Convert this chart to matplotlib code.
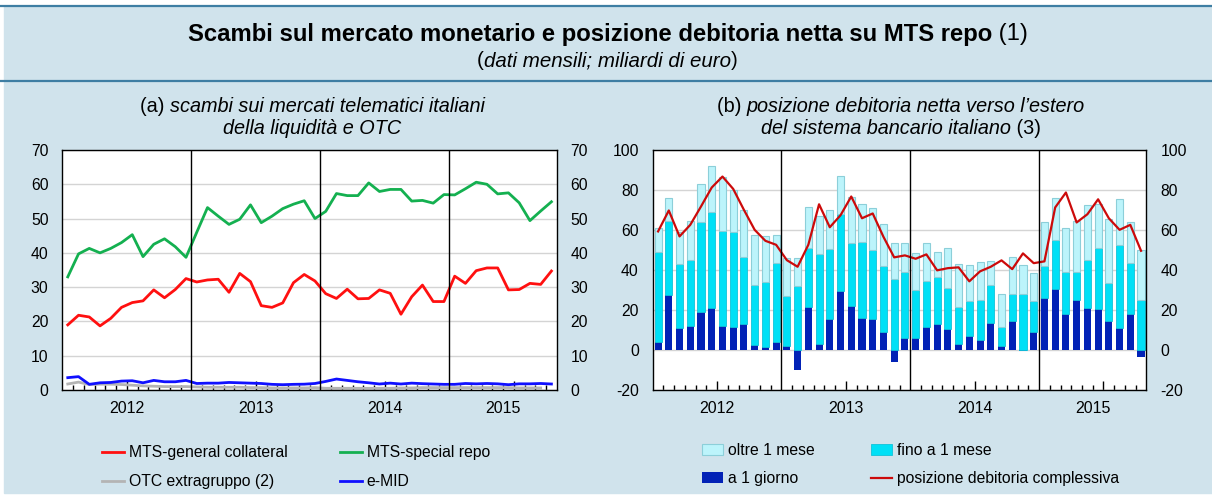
import numpy as np
import matplotlib
matplotlib.use("Agg")
import matplotlib.pyplot as plt
from matplotlib.patches import Rectangle
from matplotlib.lines import Line2D

plt.rcParams['font.family'] = ['Liberation Sans', 'DejaVu Sans']
plt.rcParams['axes.unicode_minus'] = False

# --- dati (mensili, gen 2012 - ott 2015) ---
years = ["2012", "2013", "2014", "2015"]

mts_gc = [19, 21.8, 21.3, 18.7, 20.9, 24.1, 25.5, 26, 29.2, 26.9, 29.3, 32.5,
          31.5, 32.1, 32.3, 28.5, 34, 31.6, 24.6, 24.1, 25.4, 31.3, 33.7, 31.8,
          28.1, 26.7, 29.4, 26.6, 26.7, 29.2, 28.2, 22.1, 27.2, 30.6, 25.8, 25.8,
          33.2, 31.1, 34.8, 35.6, 35.6, 29.2, 29.3, 31.1, 30.8, 34.7]
mts_special = [33, 39.7, 41.3, 40, 41.3, 43, 45.3, 38.9, 42.5, 44.1, 41.8, 38.7,
               46, 53.2, 50.7, 48.3, 49.8, 54, 48.8, 50.7, 52.9, 54.2, 55.2, 50,
               52.1, 57.3, 56.7, 56.7, 60.4, 57.9, 58.5, 58.5, 55.1, 55.3, 54.5, 57,
               56.9, 58.7, 60.6, 60, 57.2, 57.5, 54.6, 49.4, 52.2, 54.9]
otc = [1.75, 2.3, 1.6, 1.7, 1.7, 1.6, 1.4, 1.2, 1.1, 1.0, 1.0, 1.0,
       0.9, 0.8, 0.8, 0.8, 0.8, 0.7, 0.7, 0.6, 0.6, 0.6, 0.6, 0.7,
       0.5, 0.5, 0.5, 0.5, 0.5, 0.5, 0.5, 0.6, 0.6, 0.7, 0.7, 0.7,
       0.7, 0.7, 0.7, 0.7, 0.7, 0.7, 0.6, 0.6, 0.6]
emid = [3.6, 3.9, 1.65, 2.1, 2.2, 2.6, 2.7, 2.1, 2.8, 2.4, 2.4, 2.8,
        1.9, 2.0, 2.0, 2.2, 2.1, 2.0, 1.9, 1.65, 1.55, 1.65, 1.7, 1.9,
        2.5, 3.2, 2.8, 2.4, 2.1, 1.75, 2.0, 1.75, 2.0, 1.85, 1.75, 1.65,
        1.65, 1.9, 1.8, 1.9, 1.8, 1.55, 1.8, 1.8, 1.9, 1.75]

a1_giorno = [4, 27.5, 10.7, 11.7, 18.7, 21, 11.7, 11.2, 13, 2.2, 1.3, 4,
             2, -10.3, 21.2, 3, 15.2, 29.2, 22, 16, 15.2, 9, -6.3, 5.7,
             5.7, 11.2, 13, 10.2, 3, 7, 5, 13.2, 2, 14.2, -0.5, 8.7,
             25.7, 30.5, 17.7, 24.7, 20.7, 20.5, 14.2, 10.7, 17.7, -3.7]
fino_1_mese = [44.8, 36.7, 32.1, 33.1, 45.1, 47.8, 47.8, 47.5, 33.3, 30.0, 32.5, 39.3,
               24.7, 31.7, 29.5, 44.8, 35, 38.6, 31.3, 37.8, 34.6, 32.7, 35.2, 33.1,
               24, 23, 23.2, 20.6, 18.2, 17.5, 19.8, 19, 9.2, 13.5, 27.7, 15.5,
               16.1, 24.5, 21.1, 14.1, 24.1, 30.3, 19.3, 41.5, 25.6, 24.7]
oltre_1_mese = [12.2, 11.6, 16, 19.7, 19, 23, 26.8, 21.3, 23.5, 25.3, 23, 14.2,
                19.1, 14.1, 20.8, 19.2, 19.6, 19.4, 23.2, 19, 21.2, 21.1, 18.1, 14.5,
                18.6, 19.1, 12.5, 20, 21.5, 17.8, 19, 12.1, 16.6, 18.6, 14.6, 14.1,
                22, 21, 22, 25.7, 27.5, 22, 32, 23.3, 20.5, 25]
pos_complessiva = [59.2, 69.7, 56.7, 62.5, 71.7, 81.2, 86.7, 80.5, 70, 60, 54.5, 52.5,
                   44.8, 41.5, 52.5, 72.8, 61.3, 67.3, 76.7, 65.8, 68.2, 56.5, 46.2, 47.2,
                   45.5, 47.7, 39.7, 40.8, 41.2, 34.2, 39.2, 41.5, 44.7, 40.3, 48.2, 43.3,
                   44.2, 71.2, 78.7, 63.7, 67.8, 75.3, 65.8, 60, 62.5, 49.5]

W, H = 1212, 498
BG = "#d0e3ec"
HEAD = "#3e7ea3"

fig = plt.figure(figsize=(W / 100, H / 100), dpi=100)
fig.patch.set_facecolor("white")
fig.add_artist(Rectangle((4 / W, 5 / H), 1 - 4 / W, 1 - 11 / H,
                         transform=fig.transFigure, color=BG, zorder=-10))
for yy in (6.5, 81):
    fig.add_artist(Line2D([0, 1], [1 - yy / H, 1 - yy / H], transform=fig.transFigure,
                          color=HEAD, lw=1.6))


def mixed(xp, yp, parts, size):
    # testo centrato composto da pezzi con stili diversi
    r = fig.canvas.get_renderer()
    objs = [fig.text(0, 1 - yp / H, s, size=size, va="center", ha="left", **kw) for s, kw in parts]
    ws = [t.get_window_extent(r).width for t in objs]
    x = xp - sum(ws) / 2
    for t, w in zip(objs, ws):
        t.set_x(x / W)
        x += w


mixed(608, 34, [("Scambi sul mercato monetario e posizione debitoria netta su MTS repo", dict(weight="bold")),
                (" (1)", {})], 17.2)
mixed(607, 61, [("(", {}), ("dati mensili; miliardi di euro", dict(style="italic")), (")", {})], 14.8)
mixed(312, 106, [("(a) ", {}), ("scambi sui mercati telematici italiani", dict(style="italic"))], 14.3)
mixed(312, 129, [("della liquidità e OTC", dict(style="italic"))], 14.3)
mixed(901, 106, [("(b) ", {}), ("posizione debitoria netta verso l\u2019estero", dict(style="italic"))], 14.3)
mixed(901, 129, [("del sistema bancario italiano", dict(style="italic")), (" (3)", {})], 14.3)

ax1 = fig.add_axes([62.4 / W, 1 - 390 / H, 494.4 / W, 240 / H])
ax2 = fig.add_axes([652.7 / W, 1 - 389.5 / H, 493.7 / W, 239.5 / H])

n = len(mts_gc)
x = np.arange(n)

ax1.plot(np.arange(len(otc)), otc, color="#b4b4b4", lw=2, label="OTC extragruppo (2)")
ax1.plot(x, mts_gc, color="#ff1010", lw=2, label="MTS-general collateral")
ax1.plot(x, mts_special, color="#14b050", lw=2, label="MTS-special repo")
ax1.plot(x, emid, color="#1010ff", lw=2, label="e-MID")
ax1.set_ylim(0, 70)
ax1.set_yticks(range(0, 71, 10))

g = np.array(a1_giorno)
f = np.array(fino_1_mese)
o = np.array(oltre_1_mese)
gpos = np.clip(g, 0, None)
bw = 0.66
b_g = ax2.bar(x, g, bw, color="#0222b6", lw=0, label="a 1 giorno")
b_f = ax2.bar(x, f, bw, bottom=gpos, color="#00e0f6", edgecolor="#12c2d8", lw=0.6, label="fino a 1 mese")
b_o = ax2.bar(x, o, bw, bottom=gpos + f, color="#bcf4fb", edgecolor="#8ccfd9", lw=0.8, label="oltre 1 mese")
l_p, = ax2.plot(x, pos_complessiva, color="#cc0a0a", lw=1.6, label="posizione debitoria complessiva")
ax2.set_ylim(-20, 100)
ax2.set_yticks(range(-20, 101, 20))

for ax in (ax1, ax2):
    ax.set_facecolor("white")
    ax.set_xlim(-0.5, n - 0.5)
    ax.set_axisbelow(True)
    ax.grid(axis="y", color="#d4d4d4", lw=1)
    for s in ax.spines.values():
        s.set_color("black")
        s.set_linewidth(1)
    for b in (11.5, 23.5, 35.5):
        ax.axvline(b, color="black", lw=1, zorder=3)
    ax.set_xticks([5.5, 17.5, 29.5, 41.5])
    ax.set_xticks([i + 0.5 for i in range(n - 1) if i not in (11, 23, 35)], minor=True)
    ax.tick_params(axis="x", which="major", direction="in", length=6.5, width=1, labelbottom=False)
    ax.tick_params(axis="x", which="minor", direction="in", length=3.5, width=1)
    ax.tick_params(axis="y", length=0, pad=10, labelsize=11.3, labelleft=True, labelright=True)
    centers = [5.5, 17.5, 29.5, (35.5 + n - 0.5) / 2]
    for xc, yl in zip(centers, years):
        ax.annotate(yl, xy=(xc, 0), xycoords=("data", "axes fraction"), xytext=(0, -8),
                    textcoords="offset points", ha="center", va="top", fontsize=11.5)

h1 = ax1.get_lines()
leg1 = ax1.legend([h1[1], h1[0], h1[2], h1[3]],
                  ["MTS-general collateral", "OTC extragruppo (2)", "MTS-special repo", "e-MID"],
                  ncol=2, loc="upper left", bbox_to_anchor=(102 / W, 1 - 445 / H),
                  bbox_transform=fig.transFigure, frameon=False, fontsize=11.3,
                  handlelength=1.4, handletextpad=0.3, columnspacing=3.35,
                  labelspacing=0.9, borderpad=0, borderaxespad=0)
leg2 = ax2.legend([b_o, b_g, b_f, l_p],
                  ["oltre 1 mese", "a 1 giorno", "fino a 1 mese", "posizione debitoria complessiva"],
                  ncol=2, loc="upper left", bbox_to_anchor=(702 / W, 1 - 443 / H),
                  bbox_transform=fig.transFigure, frameon=False, fontsize=11.3,
                  handlelength=1.35, handletextpad=0.3, columnspacing=3.6,
                  labelspacing=0.85, borderpad=0, borderaxespad=0)

fig.savefig("out.png", dpi=100, facecolor=fig.get_facecolor())
